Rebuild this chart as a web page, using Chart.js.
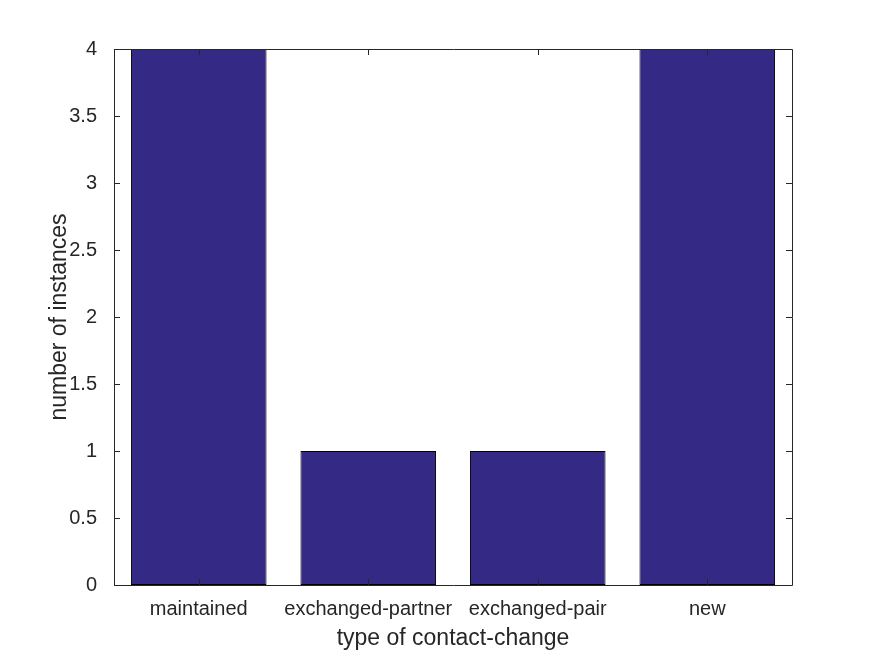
<!DOCTYPE html>
<html>
<head>
<meta charset="utf-8">
<script src="https://cdn.jsdelivr.net/npm/chart.js@4.4.1/dist/chart.umd.min.js"></script>
<style>
  html, body { margin: 0; padding: 0; background: #fff; }
  #wrap { width: 875px; height: 656px; }
</style>
</head>
<body>
<div id="wrap"><canvas id="myChartBar" width="875" height="656"></canvas></div>
<script>
// data
const categories = ['maintained', 'exchanged-partner', 'exchanged-pair', 'new'];
const counts = [4, 1, 1, 4];
const yTicks = [0, 0.5, 1, 1.5, 2, 2.5, 3, 3.5, 4];

const textColor = '#262626';
const fontFamily = 'Arial, "Liberation Sans", Helvetica, sans-serif';

// matlab style box with inward ticks on all four sides
const boxPlugin = {
    id: 'boxPlugin',
    afterDraw(chart) {
        const ctx = chart.ctx;
        const a = chart.chartArea;
        const xs = chart.scales.x;
        const ys = chart.scales.y;
        const len = 6;
        ctx.save();
        ctx.strokeStyle = textColor;
        ctx.lineWidth = 1;
        ctx.beginPath();
        ctx.rect(Math.round(a.left) + 0.5, Math.round(a.top) + 0.5,
                 Math.round(a.right - a.left), Math.round(a.bottom - a.top));
        ctx.stroke();
        ctx.beginPath();
        for (let i = 0; i < categories.length; i++) {
            const x = Math.round(xs.getPixelForValue(i)) + 0.5;
            ctx.moveTo(x, a.bottom); ctx.lineTo(x, a.bottom - len);
            ctx.moveTo(x, a.top); ctx.lineTo(x, a.top + len);
        }
        for (const v of yTicks) {
            const y = Math.round(ys.getPixelForValue(v)) + 0.5;
            ctx.moveTo(a.left, y); ctx.lineTo(a.left + len, y);
            ctx.moveTo(a.right, y); ctx.lineTo(a.right - len, y);
        }
        ctx.stroke();
        ctx.restore();
    }
};

const ctxBar = document.getElementById('myChartBar').getContext('2d');
const myChartBar = new Chart(ctxBar, {
    type: 'bar',
    data: {
        labels: categories,
        datasets: [{
            label: 'instances',
            data: counts,
            backgroundColor: '#342a85',
            borderColor: '#000000',
            borderWidth: 1,
            borderSkipped: false,
            barPercentage: 0.8,
            categoryPercentage: 1.0
        }]
    },
    options: {
        responsive: false,
        animation: false,
        devicePixelRatio: 1,
        layout: { padding: { top: 49, right: 83, left: 46, bottom: 4 } },
        plugins: {
            legend: { display: false },
            tooltip: { enabled: false }
        },
        scales: {
            x: {
                offset: true,
                grid: { display: false },
                border: { display: false },
                ticks: {
                    color: textColor,
                    font: { family: fontFamily, size: 20 },
                    padding: 4,
                    maxRotation: 0,
                    autoSkip: false
                },
                title: {
                    display: true,
                    text: 'type of contact-change',
                    color: textColor,
                    font: { family: fontFamily, size: 23 },
                    padding: { top: 2, bottom: 0 }
                },
                afterFit(scale) { scale.height = 67; }
            },
            y: {
                min: 0,
                max: 4,
                grid: { display: false },
                border: { display: false },
                afterBuildTicks(scale) {
                    scale.ticks = yTicks.map(v => ({ value: v }));
                },
                ticks: {
                    color: textColor,
                    font: { family: fontFamily, size: 20 },
                    padding: 9,
                    callback: v => String(v)
                },
                title: {
                    display: true,
                    text: 'number of instances',
                    color: textColor,
                    font: { family: fontFamily, size: 23 },
                    padding: { top: 0, bottom: 0 }
                },
                afterFit(scale) { scale.width = 68; }
            }
        }
    },
    plugins: [boxPlugin]
});
</script>
</body>
</html>
